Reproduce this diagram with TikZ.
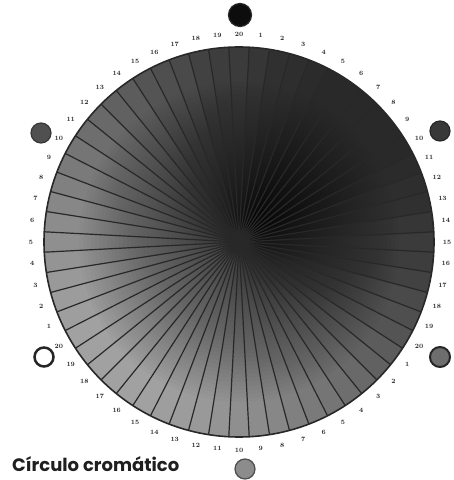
\documentclass[tikz,border=0pt]{standalone}
\usepackage{fontspec}
\newfontfamily\captfont{Poppins}
\usetikzlibrary{positioning, calc}
\definecolor{rimgray}{RGB}{40,40,40}
\definecolor{dotdark}{RGB}{80,80,80}
\definecolor{dotmid}{RGB}{110,110,110}
\definecolor{dotlight}{RGB}{140,140,140}
\tikzset{
    spoke/.style={draw=rimgray, line width=1.2pt},
    numlabel/.style={font=\fontsize{6.5}{7}\selectfont\bfseries, text=black!85, inner sep=0pt},
    swatch/.style={circle, minimum size=20pt, inner sep=0pt, draw=black!85, line width=1.2pt, fill=#1},
    ringdot/.style={circle, minimum size=19pt, inner sep=0pt, draw=black!85, line width=2.5pt, fill=white},
    captlabel/.style={font=\captfont\bfseries\fontsize{18}{20}\selectfont, text=black!88, inner sep=0pt}
}
\begin{document}
\begin{tikzpicture}[x=1pt, y=1pt]
    \useasboundingbox (0,0) rectangle (454,480);
    \coordinate (c) at (239,238);

    % Sectors, lighter towards lower left
    \foreach \k in {0,...,59} {
        \pgfmathsetmacro\angA{93-6*\k}
        \pgfmathsetmacro\angB{87-6*\k}
        \pgfmathtruncatemacro\g{40+24*cos(90-6*\k-225)}
        \fill[white!\g!black] (c) -- ($(c)+(\angA:195)$) arc[start angle=\angA, end angle=\angB, radius=195] -- cycle;
    }

    % Darkening towards the centre
    \foreach \r in {160,156,...,4} \fill[black, opacity=0.02] (c) circle (\r);
    \fill[black!85, opacity=0.6, rounded corners=4pt] ($(c)+(-11,-11)$) rectangle ($(c)+(11,11)$);

    % Spokes
    \foreach \k in {0,...,59} \draw[spoke] (c) -- ($(c)+(93-6*\k:195)$);
    \draw[rimgray, line width=1.6pt] (c) circle (195);

    % Scale 1..20 three times
    \foreach \k in {0,...,59} {
        \pgfmathtruncatemacro\lab{mod(\k+19,20)+1}
        \node[numlabel] (n\k) at ($(c)+(90-6*\k:208)$) {\lab};
    }

    % Swatches
    \node[swatch=black!95, minimum size=23pt] (top) at (240,465) {};
    \node[swatch=dotdark, draw=dotdark!70!black] (upleft) at (41,347) {};
    \node[swatch=dotdark!70!black, draw=dotdark!50!black] (upright) at (440,349) {};
    \node[swatch=dotmid, line width=2pt] (lowright) at (440,123) {};
    \node[ringdot] (lowleft) at (44,123) {};
    \node[swatch=dotlight, draw=black!70] (bottom) at (245,11) {};

    % Caption
    \node[captlabel, anchor=west] (capt) at (12,16) {Círculo cromático};
\end{tikzpicture}
\end{document}
